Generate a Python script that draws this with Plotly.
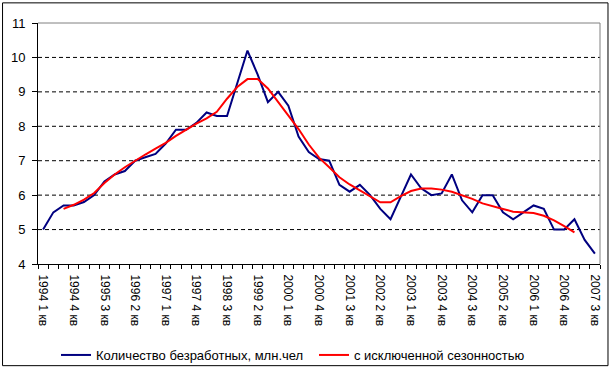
import plotly.graph_objects as go

# ---- data ----
quarters = []
for y in range(1994, 2008):
    for q in range(1, 5):
        quarters.append(f"{y} {q} кв")
quarters = quarters[:55]  # 1994 1 кв ... 2007 3 кв

unemployed = [5.0, 5.5, 5.7, 5.7, 5.8, 6.0, 6.4, 6.6, 6.7, 7.0,
              7.1, 7.2, 7.5, 7.9, 7.9, 8.1, 8.4, 8.3, 8.3, 9.25,
              10.2, 9.5, 8.7, 9.0, 8.6, 7.7, 7.25, 7.05, 7.0, 6.3,
              6.1, 6.3, 6.0, 5.6, 5.3, 5.95, 6.6, 6.2, 6.0, 6.05,
              6.6, 5.85, 5.5, 6.0, 6.0, 5.5, 5.3, 5.5, 5.7, 5.6,
              5.0, 5.0, 5.3, 4.7, 4.3]

seasonal_start = 2
seasonal = [5.6, 5.72, 5.87, 6.06, 6.35, 6.6, 6.81, 7.0, 7.18, 7.35,
            7.52, 7.72, 7.9, 8.08, 8.23, 8.42, 8.8, 9.14, 9.37, 9.37,
            9.1, 8.7, 8.32, 7.92, 7.47, 7.09, 6.81, 6.52, 6.31, 6.14,
            5.95, 5.79, 5.79, 5.97, 6.12, 6.19, 6.19, 6.16, 6.1, 6.0,
            5.89, 5.76, 5.69, 5.6, 5.52, 5.5, 5.48, 5.4, 5.27, 5.1,
            4.92]

tick_step = 3
y_ticks = [4, 5, 6, 7, 8, 9, 10, 11]
grid_values = [5, 6, 7, 8, 9, 10]
names = ["Количество безработных, млн.чел", "с исключенной сезонностью"]

# ---- figure ----
x_all = list(range(len(unemployed)))
x_seas = list(range(seasonal_start, seasonal_start + len(seasonal)))

fig = go.Figure()
fig.add_trace(go.Scatter(x=x_all, y=unemployed, mode="lines", name=names[0],
                         line=dict(color="#000080", width=2)))
fig.add_trace(go.Scatter(x=x_seas, y=seasonal, mode="lines", name=names[1],
                         line=dict(color="#FF0000", width=2)))

W, H = 614, 371
L, R, T, B = 38, 600.5, 22.7, 264.5
font = "Liberation Sans, Arial, sans-serif"

def px_x(p):
    return (p - L) / (R - L)

def px_y(p):
    return (B - p) / (B - T)

shapes = []
for v in grid_values:
    shapes.append(dict(type="line", xref="paper", yref="y", x0=0, x1=1, y0=v, y1=v,
                       line=dict(color="black", width=1, dash="4px,3px"), layer="below"))
# plot-area border (top and right, grey)
shapes.append(dict(type="line", xref="paper", yref="paper", x0=0, x1=1, y0=1, y1=1,
                   line=dict(color="#808080", width=1)))
shapes.append(dict(type="line", xref="paper", yref="paper", x0=1, x1=1, y0=0, y1=1,
                   line=dict(color="#808080", width=1)))
# chart-area border
shapes.append(dict(type="rect", xref="paper", yref="paper",
                   x0=px_x(2.5), x1=px_x(608.5), y0=px_y(366.5), y1=px_y(2.5),
                   line=dict(color="black", width=1), fillcolor="rgba(0,0,0,0)"))

fig.update_layout(
    width=W, height=H,
    margin=dict(l=L, r=W - R, t=T, b=H - B, pad=0, autoexpand=False),
    paper_bgcolor="white", plot_bgcolor="white",
    font=dict(family=font, size=12, color="black"),
    showlegend=True,
    legend=dict(orientation="h", xref="container", yref="container",
                x=56 / W, xanchor="left", y=1 - 355 / H, yanchor="middle",
                font=dict(size=13), tracegroupgap=0, bgcolor="rgba(0,0,0,0)",
                entrywidth=213, entrywidthmode="pixels"),
    shapes=shapes,
    xaxis=dict(range=[-0.5, len(unemployed) - 0.5], showgrid=False, zeroline=False,
               automargin=False,
               showline=True, linecolor="black", linewidth=1,
               tickmode="array", tickvals=x_all[::tick_step], ticktext=quarters[::tick_step],
               tickangle=90, ticks="", ticklen=0, tickfont=dict(size=12),
               ticklabelstandoff=7,
               minor=dict(tickmode="array", tickvals=[i - 0.5 for i in range(len(unemployed) + 1)],
                          ticks="outside", ticklen=4, tickcolor="black", tickwidth=1, showgrid=False)),
    yaxis=dict(range=[4, 11], tickvals=y_ticks, showgrid=False, zeroline=False,
               automargin=False,
               showline=True, linecolor="black", linewidth=1,
               ticks="outside", ticklen=5, tickcolor="black", tickfont=dict(size=13),
               ticklabelstandoff=4),
)

fig.write_html("out.html", config={"displayModeBar": False},
               post_script="document.body.style.margin='0';document.body.style.padding='0';")
